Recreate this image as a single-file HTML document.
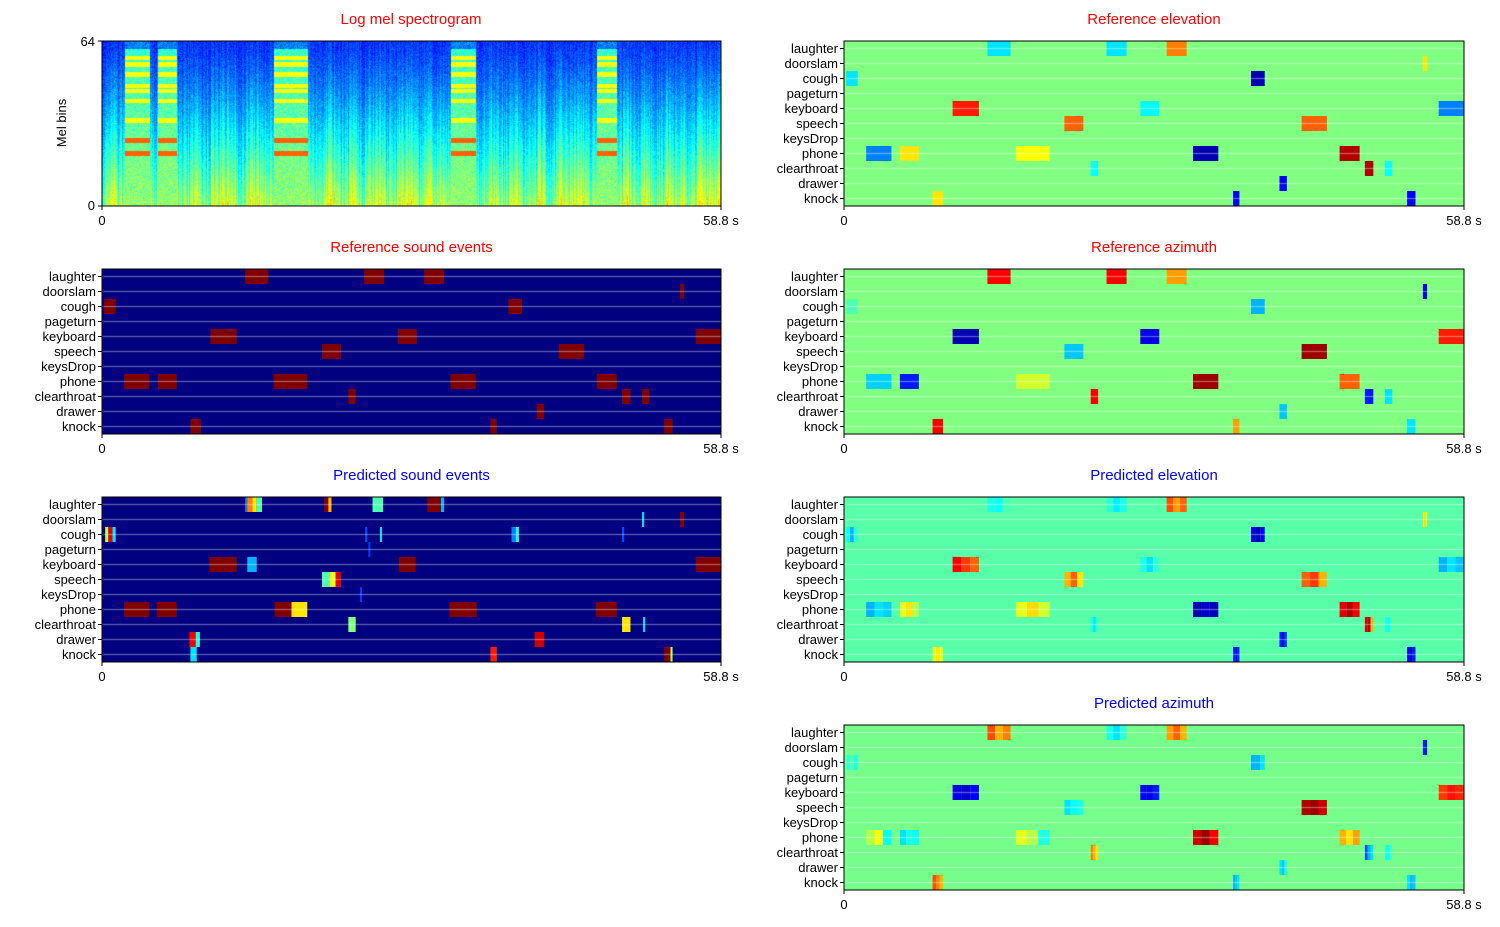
<!DOCTYPE html>
<html><head><meta charset="utf-8"><style>
body{margin:0;background:#fff;width:1500px;height:927px;overflow:hidden;font-family:"Liberation Sans",sans-serif}
#wrap{position:relative;width:1500px;height:927px}
canvas{position:absolute}
svg{position:absolute;left:0;top:0}
</style></head><body><div id="wrap">
<canvas id="spec" width="619" height="165" style="left:102px;top:41px"></canvas>
<svg id="svg" width="1500" height="927"></svg>
</div>
<script>
// ---- data ----
const classes=["laughter","doorslam","cough","pageturn","keyboard","speech","keysDrop","phone","clearthroat","drawer","knock"];
const duration=58.8;
// reference events: class index, start (s), end (s)
const evClass=[0,0,0,1,2,2,4,4,4,5,5,7,7,7,7,7,8,8,8,9,10,10,10];
const evStart=[13.6,24.9,30.6,54.9,0.2,38.6,10.3,28.1,56.4,20.9,43.4,2.1,5.3,16.3,33.1,47.0,23.4,49.4,51.3,41.3,8.4,36.9,53.4];
const evEnd=[15.8,26.8,32.5,55.3,1.3,39.9,12.8,29.9,58.8,22.7,45.8,4.5,7.1,19.5,35.5,48.9,24.1,50.2,52.0,42.0,9.4,37.5,54.2];
const refElev=[0.35,0.35,0.75,0.65,0.35,0.05,0.85,0.37,0.25,0.78,0.78,0.25,0.65,0.62,0.05,0.95,0.38,0.95,0.38,0.12,0.65,0.12,0.12];
const refAzi=[0.88,0.88,0.72,0.1,0.45,0.3,0.05,0.1,0.85,0.32,0.97,0.33,0.15,0.58,0.97,0.78,0.88,0.15,0.35,0.32,0.88,0.72,0.35];
// predicted DOA: 3 sub-values per reference event
const predElev=[[0.4,0.38,0.45],[0.42,0.36,0.4],[0.8,0.72,0.78],[0.6,0.66,0.62],[0.38,0.3,0.42],[0.1,0.05,0.12],[0.88,0.82,0.78],[0.4,0.35,0.42],[0.3,0.35,0.32],[0.7,0.78,0.65],[0.78,0.82,0.7],[0.3,0.35,0.33],[0.6,0.65,0.55],[0.6,0.66,0.58],[0.05,0.08,0.06],[0.9,0.95,0.88],[0.4,0.35,0.42],[0.9,0.95,0.7],[0.4,0.38,0.45],[0.15,0.12,0.18],[0.6,0.65,0.6],[0.15,0.12,0.15],[0.1,0.12,0.15]];
const predAzi=[[0.8,0.7,0.75],[0.4,0.35,0.42],[0.72,0.78,0.7],[0.15,0.1,0.12],[0.42,0.45,0.4],[0.3,0.3,0.35],[0.1,0.08,0.12],[0.12,0.1,0.15],[0.82,0.86,0.84],[0.35,0.38,0.4],[0.95,0.97,0.92],[0.55,0.62,0.38],[0.35,0.4,0.38],[0.6,0.55,0.4],[0.92,0.97,0.88],[0.7,0.65,0.72],[0.75,0.7,0.65],[0.2,0.3,0.35],[0.4,0.38,0.45],[0.35,0.32,0.4],[0.8,0.75,0.7],[0.3,0.32,0.35],[0.35,0.3,0.32]];
// predicted sound event activity segments
const pClass=[0,0,0,0,0,0,0,0,0,2,2,2,2,2,2,2,2,4,4,4,4,5,5,5,7,7,7,7,7,7,8,8,8,9,9,9,10,10,10,10,1,1,3,6];
const pStart=[13.6,13.8,14.3,14.7,21.1,21.5,25.7,30.9,32.2,0.3,0.6,1.0,25.0,26.4,38.9,39.3,49.4,10.2,13.8,28.2,56.4,20.9,21.6,22.2,2.1,5.2,16.4,18.0,33.0,46.9,23.4,49.4,51.4,8.3,8.9,41.1,8.4,36.9,53.4,54.0,54.9,51.3,25.3,24.5];
const pEnd=[13.8,14.3,14.7,15.2,21.5,21.8,26.7,32.2,32.5,0.6,1.0,1.3,25.2,26.6,39.3,39.6,49.6,12.8,14.7,29.8,58.8,21.6,22.2,22.7,4.5,7.1,18.0,19.5,35.6,48.9,24.1,50.2,51.6,8.9,9.3,42.0,9.0,37.5,54.0,54.2,55.3,51.5,25.5,24.7];
const pVal=[0.25,0.75,0.65,0.45,1,0.7,0.45,1,0.3,0.55,0.9,0.35,0.2,0.35,0.25,0.4,0.2,1,0.3,1,1,0.45,0.6,0.9,1,1,1,0.65,1,1,0.5,0.65,0.35,0.88,0.4,0.92,0.35,0.85,1,0.55,1,0.35,0.18,0.18];

function jet(v){v=Math.max(0,Math.min(1,v));const c=x=>Math.round(255*Math.max(0,Math.min(1,1.5-Math.abs(x))));
return `rgb(${c(4*v-3)},${c(4*v-2)},${c(4*v-1)})`;}
const svg=document.getElementById('svg');const NS='http://www.w3.org/2000/svg';
function mk(tag,attrs,parent){const e=document.createElementNS(NS,tag);for(const k in attrs)e.setAttribute(k,attrs[k]);(parent||svg).appendChild(e);return e;}
function txt(x,y,s,attrs,name){const t=mk('text',Object.assign({x:x,y:y,'font-size':13,'font-family':'Liberation Sans, sans-serif',fill:'#000'},attrs));t.textContent=s;

return t;}

const panels=[
 {id:'ref-events',x:102,y:269,w:619,title:'Reference sound events',col:'#f00',bg:0},
 {id:'pred-events',x:102,y:497,w:619,title:'Predicted sound events',col:'#00f',bg:0},
 {id:'ref-elevation',x:844,y:41,w:620,title:'Reference elevation',col:'#f00',bg:0.5},
 {id:'ref-azimuth',x:844,y:269,w:620,title:'Reference azimuth',col:'#f00',bg:0.5},
 {id:'pred-elevation',x:844,y:497,w:620,title:'Predicted elevation',col:'#00f',bg:0.46},
 {id:'pred-azimuth',x:844,y:725,w:620,title:'Predicted azimuth',col:'#00f',bg:0.49}];
const H=165,rowH=H/11;

function xAxis(g,p,t){return p.x+t/duration*p.w;}
function drawXTicks(p,name){
 mk('line',{x1:p.x,y1:p.y+H,x2:p.x,y2:p.y+H+4,stroke:'#000'});
 mk('line',{x1:p.x+p.w,y1:p.y+H,x2:p.x+p.w,y2:p.y+H+4,stroke:'#000'});
 txt(p.x,p.y+H+19,'0',{'text-anchor':'middle'},name+'-x-tick-0');
 txt(p.x+p.w,p.y+H+19,'58.8 s',{'text-anchor':'middle'},name+'-x-tick-end');
}
function drawPanel(p,fill){
 const g=mk('g',{});
 
 
 mk('rect',{x:p.x,y:p.y,width:p.w,height:H,fill:jet(p.bg)},g);
 fill(g);
 for(let i=0;i<11;i++){const yc=p.y+rowH*(i+0.5);
  mk('line',{x1:p.x,y1:yc,x2:p.x+p.w,y2:yc,stroke:'rgba(255,255,255,0.3)','stroke-width':1.5},g);
  mk('line',{x1:p.x-4,y1:yc,x2:p.x,y2:yc,stroke:'#000'});
  txt(p.x-6,yc+4.5,classes[i],{'text-anchor':'end'},p.id+'-y-label-'+classes[i]);}
 mk('rect',{x:p.x,y:p.y,width:p.w,height:H,fill:'none',stroke:'#000','stroke-width':1},g);
 txt(p.x+p.w/2,p.y-17,p.title,{'text-anchor':'middle','font-size':15,fill:p.col},p.id+'-title');
 drawXTicks(p,p.id);
}
function bar(g,p,cls,s,e,v,name){const x0=xAxis(g,p,s),x1=xAxis(g,p,e);
 const r=mk('rect',{x:x0,y:p.y+cls*rowH,width:Math.max(1,x1-x0),height:rowH,fill:jet(v)},g);
 
 }

drawPanel(panels[0],g=>{for(let i=0;i<evClass.length;i++)bar(g,panels[0],evClass[i],evStart[i],evEnd[i],1,'ref-event-'+classes[evClass[i]]);});
drawPanel(panels[1],g=>{for(let i=0;i<pClass.length;i++)bar(g,panels[1],pClass[i],pStart[i],pEnd[i],pVal[i],'pred-event-'+classes[pClass[i]]);});
drawPanel(panels[2],g=>{for(let i=0;i<evClass.length;i++)bar(g,panels[2],evClass[i],evStart[i],evEnd[i],refElev[i],'ref-elevation-'+classes[evClass[i]]);});
drawPanel(panels[3],g=>{for(let i=0;i<evClass.length;i++)bar(g,panels[3],evClass[i],evStart[i],evEnd[i],refAzi[i],'ref-azimuth-'+classes[evClass[i]]);});
function predDoa(p,vals,nm){return g=>{for(let i=0;i<evClass.length;i++){const s=evStart[i],d=(evEnd[i]-evStart[i])/3;
 for(let k=0;k<3;k++)bar(g,p,evClass[i],s+k*d,s+(k+1)*d,vals[i][k],nm+'-'+classes[evClass[i]]);}};}
drawPanel(panels[4],predDoa(panels[4],predElev,'pred-elevation'));
drawPanel(panels[5],predDoa(panels[5],predAzi,'pred-azimuth'));

// spectrogram panel axes
mk('rect',{x:102,y:41,width:619,height:H,fill:'none',stroke:'#000'});
txt(411,24,'Log mel spectrogram',{'text-anchor':'middle','font-size':15,fill:'#f00'},'spectrogram-title');
mk('line',{x1:98,y1:41,x2:102,y2:41,stroke:'#000'});mk('line',{x1:98,y1:206,x2:102,y2:206,stroke:'#000'});
txt(95,46,'64',{'text-anchor':'end'},'spectrogram-y-tick-64');
txt(95,210,'0',{'text-anchor':'end'},'spectrogram-y-tick-0');
txt(66,123,'Mel bins',{'text-anchor':'middle',transform:'rotate(-90 66 123)'},'spectrogram-y-title');
drawXTicks({x:102,y:41,w:619},'spectrogram');

// spectrogram texture (driven by event arrays)
const cv=document.getElementById('spec'),ctx=cv.getContext('2d');const img=ctx.createImageData(619,165);
function h(a){let x=Math.sin(a*12.9898)*43758.5453;return x-Math.floor(x);}
const bands=[0.1,0.14,0.2,0.27,0.3,0.36,0.48,0.6,0.68];
for(let c=0;c<619;c++){const t=c/619*duration;const cn=h(c*1.7)*0.18;
 let act=-1;for(let i=0;i<evClass.length;i++)if(t>=evStart[i]&&t<=evEnd[i])act=i;
 for(let r=0;r<165;r++){const f=1-r/165;const pn=h(c*3.1+r*7.3);
  let v=0.11+0.28*Math.pow(1-f,1.4)+cn*(0.3+0.7*(1-f))+0.08*pn;
  if(act>=0){const cl=evClass[act];
   if(cl===7){v=r<8?0.2+0.1*pn:0.36+0.12*pn+0.1*(r/165);for(const b of bands)if(Math.abs(r/165-b)<0.014)v=(b>0.55)?0.78:0.62;}
   else v+=0.08*(1-f);}
  const col=jet(Math.min(0.9,v)).match(/\d+/g);const k=(r*619+c)*4;
  img.data[k]=col[0];img.data[k+1]=col[1];img.data[k+2]=col[2];img.data[k+3]=255;}}
ctx.putImageData(img,0,0);
</script></body></html>
